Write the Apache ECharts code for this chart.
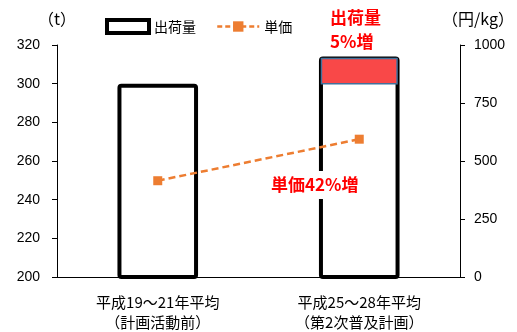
<!DOCTYPE html>
<html>
<head>
<meta charset="utf-8">
<script src="https://cdn.jsdelivr.net/npm/echarts@6/dist/echarts.min.js"></script>
<style>html,body{margin:0;padding:0;background:#fff;}#c{width:517px;height:332px;}</style>
</head>
<body>
<div id="c"></div>
<script>
var categories = ['平成19～21年平均\n（計画活動前）', '平成25～28年平均\n（第2次普及計画）'];
var shipment = [300, 314];
var unitPrice = [415, 594];
var increase = [[1, 300, 314]];
var leftTicks = {min: 200, max: 320, interval: 20};
var rightTicks = {min: 0, max: 1000, interval: 250};

var CJK = "'Noto Sans CJK JP', sans-serif";
var NUM = "'Liberation Sans', 'Noto Sans CJK JP', sans-serif";

var chart = echarts.init(document.getElementById('c'));
chart.setOption({
  animation: false,
  grid: {left: 57, right: 57, top: 45, bottom: 55},
  legend: {
    left: 100, top: 13, itemWidth: 42, itemHeight: 13, itemGap: 20,
    textStyle: {fontFamily: CJK, fontSize: 14, color: '#000'},
    data: [
      {name: '出荷量', icon: 'rect', itemStyle: {color: '#fff', borderColor: '#000', borderWidth: 4}},
      {name: '単価', lineStyle: {type: [5, 3], width: 2.5, color: '#ED7D31'}}
    ]
  },
  xAxis: {
    type: 'category', data: categories,
    axisLine: {lineStyle: {color: '#000', width: 1}},
    axisTick: {show: false},
    axisLabel: {fontFamily: CJK, fontSize: 15, color: '#000', lineHeight: 20, margin: 15}
  },
  yAxis: [
    {
      type: 'value', min: leftTicks.min, max: leftTicks.max, interval: leftTicks.interval,
      name: '（t）', nameLocation: 'end', nameGap: 18,
      nameTextStyle: {fontFamily: CJK, fontSize: 16, color: '#000'},
      axisLine: {show: true, lineStyle: {color: '#000', width: 1}},
      axisTick: {show: true, length: 5, lineStyle: {color: '#000'}},
      axisLabel: {fontFamily: NUM, fontSize: 14, color: '#000', margin: 17},
      splitLine: {show: false}
    },
    {
      type: 'value', min: rightTicks.min, max: rightTicks.max, interval: rightTicks.interval,
      name: '（円/kg）', nameLocation: 'end', nameGap: 18,
      nameTextStyle: {fontFamily: CJK, fontSize: 16, color: '#000', align: 'center', padding: [0, 0, 0, 36]},
      axisLine: {show: true, lineStyle: {color: '#000', width: 1}},
      axisTick: {show: true, length: 5, lineStyle: {color: '#000'}},
      axisLabel: {fontFamily: NUM, fontSize: 14, color: '#000', margin: 14, formatter: function (v) { return String(v); }},
      splitLine: {show: false}
    }
  ],
  series: [
    {
      name: '出荷量', type: 'bar', data: shipment, barWidth: '40%', z: 2,
      itemStyle: {color: '#fff', borderColor: '#000', borderWidth: 4, borderRadius: 2}
    },
    {
      name: '増加分', type: 'custom', data: increase, z: 3,
      renderItem: function (params, api) {
        var p0 = api.coord([api.value(0), api.value(1)]);
        var p1 = api.coord([api.value(0), api.value(2)]);
        var w = api.size([1, 0])[0] * 0.4 - 5;
        return {
          type: 'rect',
          shape: {x: p0[0] - w / 2, y: p1[1] + 2, width: w, height: p0[1] - p1[1] - 2},
          style: {fill: '#F94848', stroke: '#41719C', lineWidth: 1.5}
        };
      }
    },
    {
      name: '単価', type: 'line', yAxisIndex: 1, data: unitPrice, z: 4,
      symbol: 'rect', symbolSize: 9,
      itemStyle: {color: '#ED7D31'},
      lineStyle: {color: '#ED7D31', width: 2.5, type: [7, 4]}
    }
  ],
  graphic: [
    {type: 'text', left: 330, top: 9, z: 100, style: {text: '出荷量', fill: '#FF0000', font: 'bold 17px ' + CJK}},
    {type: 'text', left: 330, top: 33, z: 100, style: {text: '5%増', fill: '#FF0000', font: 'bold 17px ' + CJK}},
    {type: 'text', left: 267, top: 171, z: 100, style: {text: '単価42%増', fill: '#FF0000', font: 'bold 17px ' + CJK, backgroundColor: '#fff', padding: [5, 4, 6, 4]}}
  ]
});
</script>
</body>
</html>
